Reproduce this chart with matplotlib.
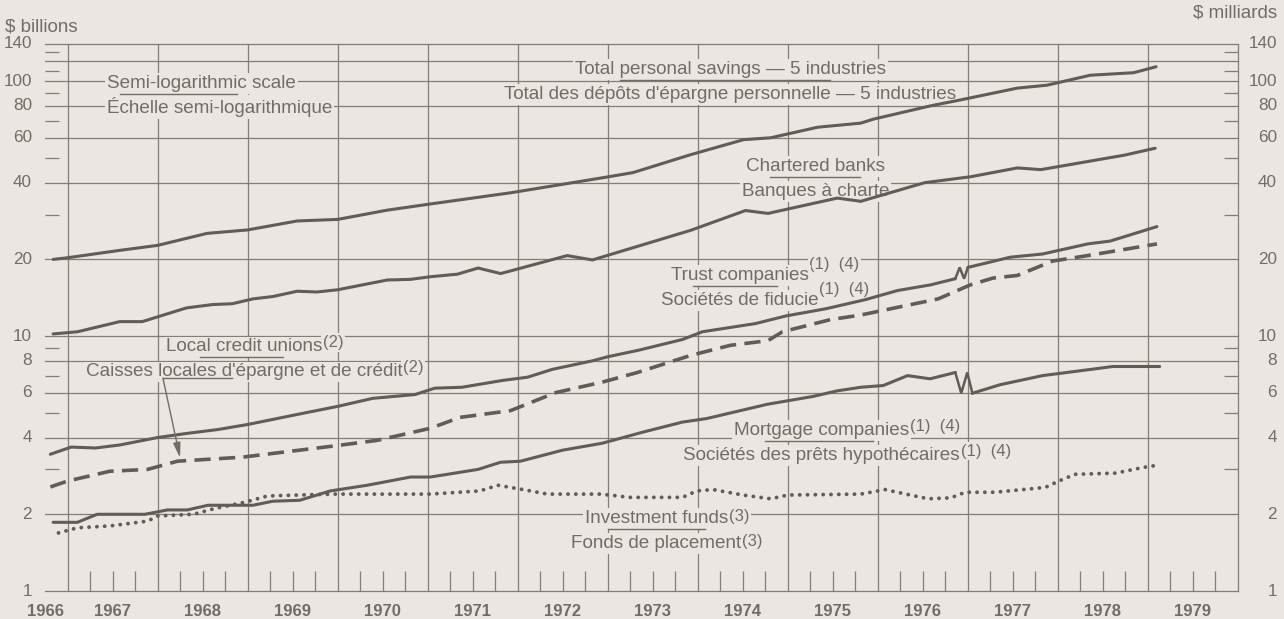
import numpy as np
import matplotlib
matplotlib.use("Agg")
import matplotlib.pyplot as plt
import matplotlib.transforms as mtransforms

# --- data ($ billions, log scale) ---
total_x = [1966.84, 1967.0, 1967.58, 1968.0, 1968.55, 1969.0, 1969.55, 1970.0, 1970.55, 1971.03,
           1971.92, 1972.94, 1973.28, 1973.92, 1974.51, 1974.81, 1975.33, 1975.81, 1975.95, 1976.31,
           1976.58, 1976.92, 1977.55, 1977.88, 1978.36, 1978.84, 1979.09]
total_y = [20.0, 20.3, 21.7, 22.7, 25.3, 26.1, 28.3, 28.7, 31.2, 33.0,
           36.5, 41.8, 43.8, 51.5, 59.0, 60.0, 66.0, 68.5, 71.0, 76.0,
           80.0, 84.5, 94.0, 96.5, 105.6, 108.0, 114.0]

banks_x = [1966.84, 1967.11, 1967.58, 1967.83, 1968.32, 1968.61, 1968.83, 1969.06, 1969.28, 1969.55,
           1969.77, 1970.0, 1970.55, 1970.81, 1971.03, 1971.33, 1971.56, 1971.81, 1971.94, 1972.55,
           1972.83, 1973.92, 1974.53, 1974.78, 1975.55, 1975.81, 1976.52, 1977.03, 1977.55, 1977.81,
           1978.74, 1979.08]
banks_y = [10.2, 10.4, 11.4, 11.4, 12.9, 13.3, 13.4, 14.0, 14.3, 15.0,
           14.9, 15.2, 16.6, 16.7, 17.1, 17.5, 18.5, 17.6, 18.1, 20.7,
           19.9, 26.0, 31.1, 30.3, 34.8, 33.8, 40.0, 42.2, 45.7, 45.0,
           51.3, 54.6]

# trust companies: series break at end of 1976
trust_x_old = [1966.81, 1967.04, 1967.31, 1967.58, 1968.0, 1968.32, 1968.67, 1969.0, 1969.64, 1970.0,
               1970.39, 1970.86, 1971.08, 1971.38, 1971.83, 1972.11, 1972.38, 1972.83, 1973.0, 1973.34,
               1973.83, 1974.05, 1974.64, 1974.98, 1975.42, 1975.86, 1976.22, 1976.59, 1976.86]
trust_y_old = [3.44, 3.67, 3.64, 3.74, 4.0, 4.15, 4.3, 4.5, 5.0, 5.3,
               5.7, 5.9, 6.25, 6.3, 6.7, 6.9, 7.4, 8.0, 8.3, 8.8,
               9.7, 10.4, 11.2, 12.0, 12.8, 13.9, 15.1, 15.9, 16.8]
trust_x_new = [1977.0, 1977.47, 1977.83, 1978.33, 1978.58, 1979.1]
trust_y_new = [18.6, 20.4, 21.0, 23.0, 23.6, 26.9]

cu_x = [1966.81, 1967.0, 1967.47, 1967.89, 1968.22, 1968.94, 1969.58, 1969.94, 1970.44, 1971.03,
        1971.36, 1971.92, 1972.42, 1972.94, 1973.33, 1973.92, 1974.36, 1974.78, 1974.94, 1975.47,
        1975.81, 1976.67, 1977.03, 1977.28, 1977.55, 1977.94, 1978.33, 1979.1]
cu_y = [2.56, 2.7, 2.95, 3.0, 3.23, 3.35, 3.57, 3.7, 3.9, 4.35,
        4.8, 5.1, 6.0, 6.6, 7.2, 8.4, 9.2, 9.6, 10.4, 11.6,
        12.1, 14.0, 15.9, 16.9, 17.3, 19.7, 20.7, 23.0]

# mortgage companies: series break at end of 1976
mort_x_old = [1966.84, 1967.11, 1967.33, 1967.86, 1968.11, 1968.33, 1968.56, 1969.06, 1969.28, 1969.58,
              1969.92, 1970.33, 1970.81, 1971.03, 1971.56, 1971.81, 1972.03, 1972.5, 1972.94, 1973.39,
              1973.83, 1974.1, 1974.77, 1975.28, 1975.55, 1975.81, 1976.06, 1976.33, 1976.58, 1976.86]
mort_y_old = [1.86, 1.86, 2.0, 2.0, 2.08, 2.08, 2.17, 2.17, 2.25, 2.27,
              2.47, 2.6, 2.8, 2.8, 3.0, 3.2, 3.23, 3.57, 3.8, 4.2,
              4.6, 4.75, 5.4, 5.8, 6.1, 6.3, 6.4, 7.0, 6.8, 7.2]
mort_x_new = [1977.05, 1977.36, 1977.83, 1978.36, 1978.61, 1979.13]
mort_y_new = [5.97, 6.45, 7.0, 7.4, 7.6, 7.6]

inv_x = [1966.9, 1967.11, 1967.47, 1967.89, 1968.0, 1968.4, 1968.62, 1968.97, 1969.22, 1969.58,
         1969.94, 1971.03, 1971.58, 1971.78, 1972.06, 1972.33, 1972.92, 1973.25, 1973.83, 1973.99,
         1974.17, 1974.5, 1974.81, 1975.0, 1975.81, 1976.08, 1976.36, 1976.56, 1976.81, 1976.97,
         1977.3, 1977.86, 1978.01, 1978.19, 1978.64, 1978.94, 1979.12]
inv_y = [1.69, 1.77, 1.8, 1.88, 1.97, 2.0, 2.1, 2.23, 2.36, 2.38,
         2.4, 2.4, 2.47, 2.6, 2.5, 2.4, 2.4, 2.33, 2.33, 2.47,
         2.5, 2.38, 2.3, 2.38, 2.4, 2.5, 2.38, 2.3, 2.32, 2.44,
         2.44, 2.55, 2.7, 2.87, 2.9, 3.05, 3.12]

years = list(range(1967, 1980))
grid_values = [1, 2, 4, 6, 8, 10, 20, 40, 60, 80, 100, 120, 140]
tick_labels = [1, 2, 4, 6, 8, 10, 20, 40, 60, 80, 100, 140]
minor_values = [3, 5, 7, 9, 30, 50, 70, 90, 110, 130]

# --- style ---
BG = "#ebe6e1"
INK = "#625b56"
GRID = "#847d77"
TXT = "#736c66"
plt.rcParams["font.family"] = ["Liberation Sans", "DejaVu Sans"]

W, H = 1284, 619
fig = plt.figure(figsize=(W / 100, H / 100), dpi=100, facecolor=BG)
ax = fig.add_axes([45 / W, 1 - 591 / H, 1193 / W, 547 / H], facecolor=BG)
ax.set_yscale("log")
ax.set_xlim(1966.75, 1980)
ax.set_ylim(1, 140)

for v in grid_values:
    ax.axhline(v, color=GRID, lw=0.9, zorder=1, clip_on=False)
for yr in years:
    ax.axvline(yr, color=GRID, lw=0.9, zorder=1)
for side in ["left", "top", "bottom"]:
    ax.spines[side].set_visible(False)
ax.spines["right"].set_color(GRID)
ax.spines["right"].set_linewidth(0.9)

# ticks: quarter marks at the bottom, short dashes on the y sides
ax.set_xticks([])
quarters = [y + q for y in years for q in (0.25, 0.5, 0.75)]
ax.set_xticks(quarters, minor=True)
ax.tick_params(axis="x", which="minor", direction="in", length=14.5, width=0.9,
               color=GRID, bottom=True, top=False, labelbottom=False)
ax.set_yticks([])
ax.set_yticks(minor_values, minor=True)
ax.yaxis.set_minor_formatter(matplotlib.ticker.NullFormatter())
ax.tick_params(axis="y", which="minor", direction="in", length=10, width=0.9,
               color=GRID, left=True, right=True)

# tick labels
lab_tr = mtransforms.blended_transform_factory(fig.transFigure, ax.transData)
for v in tick_labels:
    ax.text(32 / W, v, str(v), transform=lab_tr, ha="right", va="center",
            fontsize=12.3, color=TXT)
    ax.text(1277 / W, v, str(v), transform=lab_tr, ha="right", va="center",
            fontsize=12.3, color=TXT)
yr_tr = mtransforms.blended_transform_factory(ax.transData, ax.transAxes) + \
    mtransforms.ScaledTranslation(0, -0.20, fig.dpi_scale_trans)
ax.text(1966.75, 0, "1966", transform=yr_tr, ha="center", va="center",
        fontsize=12, fontweight="bold", color=TXT, clip_on=False)
for yr in years:
    ax.text(yr + 0.5, 0, str(yr), transform=yr_tr, ha="center", va="center",
            fontsize=12, fontweight="bold", color=TXT, clip_on=False)

fig.text(5 / W, 1 - 27 / H, r"\$ billions", ha="left", va="center", fontsize=13.5, color=TXT)
fig.text(1277 / W, 1 - 13 / H, r"\$ milliards", ha="right", va="center", fontsize=13.5, color=TXT)

# --- series ---
solid = dict(color=INK, lw=2.2, solid_capstyle="round", solid_joinstyle="round", zorder=4)
ax.plot(total_x, total_y, **solid)
ax.plot(banks_x, banks_y, **solid)
ax.plot(trust_x_old, trust_y_old, **solid)
ax.plot(trust_x_new, trust_y_new, **solid)
ax.plot(mort_x_old, mort_y_old, **solid)
ax.plot(mort_x_new, mort_y_new, **solid)
ax.plot(cu_x, cu_y, color=INK, lw=2.6, dashes=(4.5, 2.3), zorder=4)
ax.plot(inv_x, inv_y, color=INK, lw=2.8, dashes=(0.01, 2.0),
        dash_capstyle="round", zorder=4)


def draw_break(x_old, y_old, x_new, y_new):
    # Z-shaped mark joining the old series to the revised one
    x0, y0, x1, y1 = x_old[-1], y_old[-1], x_new[0], y_new[0]
    dx = x1 - x0
    ax.plot([x0, x0 + 0.35 * dx, x0 + 0.7 * dx, x1], [y0, y1, y0, y1],
            color=INK, lw=1.8, solid_joinstyle="miter", zorder=4)


draw_break(trust_x_old, trust_y_old, trust_x_new, trust_y_new)
draw_break(mort_x_old, mort_y_old, mort_x_new, mort_y_new)

# --- bilingual labels: (x, y, align, english, french, note, note rise, separator) ---
labels = [
    (1967.44, 89.4, "left", "Semi-logarithmic scale", "Échelle semi-logarithmique",
     None, 0, (1967.58, 1968.88)),
    (1974.36, 101, "center", "Total personal savings — 5 industries",
     "Total des dépôts d'épargne personnelle — 5 industries", None, 0, (1973.14, 1975.47)),
    (1975.31, 42.1, "center", "Chartered banks", "Banques à charte", None, 0, (1974.8, 1975.8)),
    (1974.75, 15.7, "center", "Trust companies", "Sociétés de fiducie",
     "(1)  (4)", 8.5, (1973.95, 1974.88)),
    (1969.08, 8.25, "center", "Local credit unions", "Caisses locales d'épargne et de crédit",
     "(2)", 4, (1968.47, 1969.39)),
    (1975.66, 3.87, "center", "Mortgage companies", "Sociétés des prêts hypothécaires",
     "(1)  (4)", 4, (1974.75, 1975.95)),
    (1973.66, 1.75, "center", "Investment funds", "Fonds de placement",
     "(3)", 2.5, (1973.0, 1974.08)),
]
box = dict(boxstyle="square,pad=0.1", fc=BG, ec="none")
notes = []
for x, y, ha, top, bottom, note, rise, sep in labels:
    for s, dy in ((top, 6), (bottom, -19)):
        tr = ax.transData + mtransforms.ScaledTranslation(0, dy / 100, fig.dpi_scale_trans)
        t = ax.text(x, y, s, transform=tr, ha=ha, va="baseline", fontsize=13.6,
                    color=TXT, bbox=box, zorder=3)
        if note:
            n = ax.annotate(note, xy=(1, 0), xycoords=t, xytext=(0.6, rise),
                            textcoords="offset points", ha="left", va="bottom",
                            fontsize=12, color=TXT, bbox=box, zorder=2.95)
            notes.append((t, n, tr))
    ax.plot(sep, [y, y], color=TXT, lw=1.0, zorder=3.5)

# recentre each line so the text plus its note sits on the label centre
fig.canvas.draw()
for t, n, tr in notes:
    w = n.get_window_extent().width + 1
    t.set_transform(tr + mtransforms.ScaledTranslation(-w / 2 / 100, 0, fig.dpi_scale_trans))

# leader arrow for the credit unions label
lead_x0, lead_x1, lead_y = 1968.06, 1968.83, 6.84
ax.plot([lead_x0, lead_x1], [lead_y, lead_y], color=TXT, lw=1.0, zorder=3.5)
tip_x = 1968.25
tip_y = np.interp(tip_x, cu_x, cu_y) * 1.03
ax.annotate("", xy=(tip_x, tip_y), xytext=(lead_x0, lead_y),
            arrowprops=dict(arrowstyle="-|>,head_length=0.9,head_width=0.22",
                            color=TXT, lw=1.0, shrinkA=0, shrinkB=0), zorder=5)

fig.savefig("out.png", dpi=100, facecolor=BG)
